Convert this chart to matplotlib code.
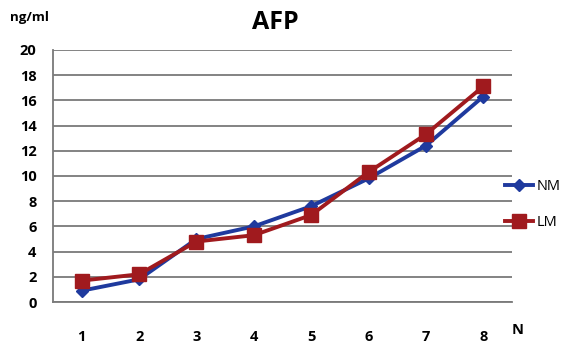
import matplotlib
matplotlib.use("Agg")
import matplotlib.pyplot as plt

# AFP levels by sample number, two methods
n_labels = ["1", "2", "3", "4", "5", "6", "7", "8"]
nm_values = [0.9, 1.8, 5.0, 6.0, 7.6, 9.8, 12.4, 16.3]
lm_values = [1.7, 2.2, 4.8, 5.3, 6.9, 10.3, 13.3, 17.1]
y_ticks = list(range(0, 21, 2))

plt.rcParams["font.family"] = ["Open Sans", "DejaVu Sans"]

fig = plt.figure(figsize=(5.65, 3.44), dpi=100)
ax = fig.add_axes([0.094, 0.122, 0.812, 0.733])

x = list(range(len(n_labels)))
ax.plot(x, nm_values, color="#1F3A9E", lw=2.8, marker="D", ms=6.5,
        label="NM", zorder=3)
ax.plot(x, lm_values, color="#A01A1E", lw=2.8, marker="s", ms=10,
        label="LM", zorder=4)

ax.set_xlim(-0.5, len(n_labels) - 0.5)
ax.set_ylim(0, 20)
ax.set_yticks(y_ticks)
ax.set_xticks(x)
ax.set_xticklabels(n_labels)
ax.tick_params(axis="both", length=0, labelsize=10.5)
ax.tick_params(axis="x", pad=20)
ax.tick_params(axis="y", pad=12)
for lbl in ax.get_xticklabels() + ax.get_yticklabels():
    lbl.set_fontweight("bold")

ax.grid(axis="y", color="#7a7a7a", lw=1.3)
ax.set_axisbelow(True)
for side in ("top", "right"):
    ax.spines[side].set_visible(False)
for side in ("left", "bottom"):
    ax.spines[side].set_color("#7a7a7a")
    ax.spines[side].set_linewidth(1.3)

fig.text(0.487, 0.935, "AFP", ha="center", va="center",
         fontsize=18, fontweight="bold")
fig.text(0.018, 0.948, "ng/ml", ha="left", va="center",
         fontsize=9.5, fontweight="bold")
fig.text(0.905, 0.042, "N", ha="left", va="center",
         fontsize=10.5, fontweight="bold")

fig.legend(loc="center left", bbox_to_anchor=(0.884, 0.405),
           frameon=False, fontsize=10.5, handlelength=1.9,
           handletextpad=0.25, labelspacing=1.4, borderaxespad=0)

fig.savefig("out.png", dpi=100)
